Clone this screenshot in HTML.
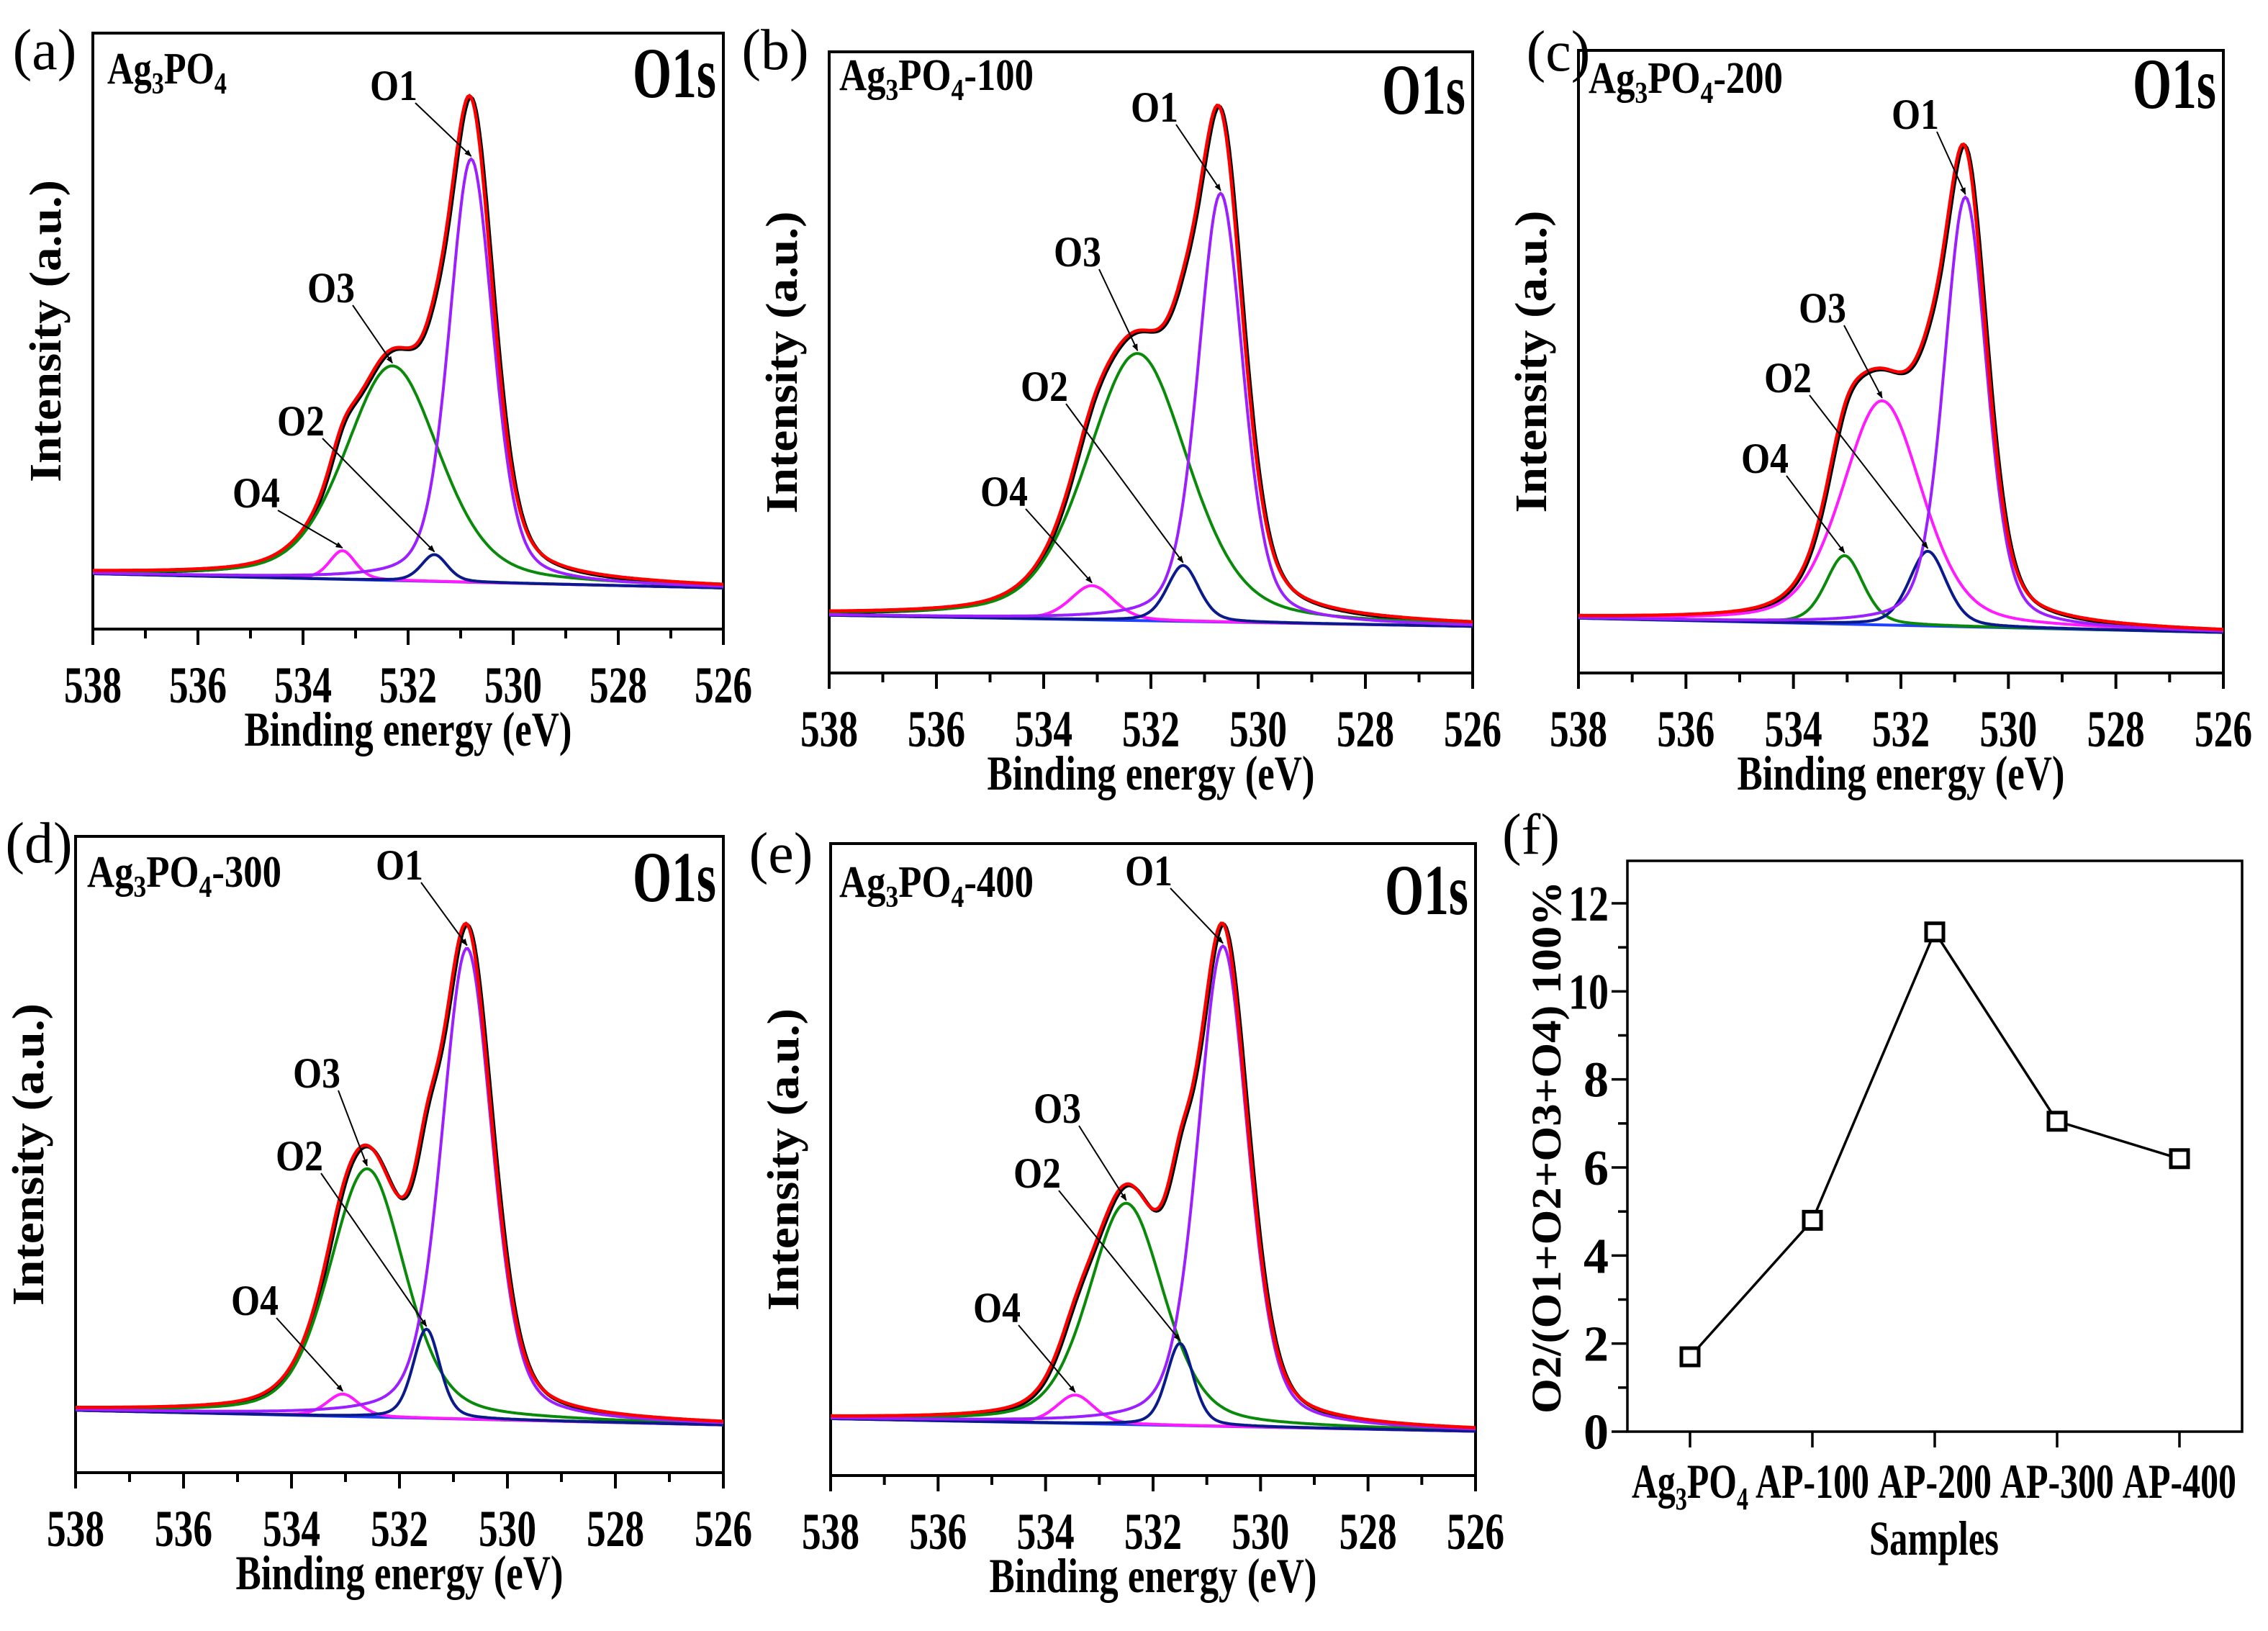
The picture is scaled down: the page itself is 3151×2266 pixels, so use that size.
<!DOCTYPE html>
<html><head><meta charset="utf-8"><style>
html,body{margin:0;padding:0;background:#fff}
svg{display:block}
text{font-family:"Liberation Serif",serif;font-weight:bold;fill:#000}
</style></head><body>
<svg id="fig" width="3151" height="2266" viewBox="0 0 3151 2266" xmlns="http://www.w3.org/2000/svg">
<defs><marker id="arr" markerWidth="10" markerHeight="8" refX="9" refY="4" orient="auto" markerUnits="userSpaceOnUse"><path d="M0,0 L10,4 L0,8 z" fill="#000"/></marker></defs>
</svg>
<script>
// Peak parameters: [center eV, amplitude (fraction of plot height), sigma eV]
const peaksA = [[530.8,0.71,0.42],[531.5,0.045,0.25],[532.3,0.36,0.90],[533.25,0.048,0.25]];
const peaksB = [[530.7,0.69,0.42],[531.4,0.09,0.30],[532.25,0.43,0.95],[533.1,0.055,0.40]];
const peaksC = [[530.8,0.69,0.40],[531.5,0.12,0.35],[532.35,0.36,0.75],[533.05,0.11,0.35]];
const peaksD = [[530.75,0.74,0.47],[531.5,0.14,0.25],[532.6,0.39,0.70],[533.05,0.035,0.30]];
const peaksE = [[530.7,0.76,0.47],[531.5,0.13,0.25],[532.5,0.35,0.70],[533.45,0.045,0.35]];
// Baseline [left, right] as fraction of plot height
const baseA = [0.093,0.069], baseB = [0.093,0.075], baseC = [0.088,0.065], baseD = [0.098,0.075], baseE = [0.09,0.07];
const xTicks = [538,536,534,532,530,528,526];
const sampleNames = ["Ag3PO4","AP-100","AP-200","AP-300","AP-400"];
const ratioValues = [1.7,4.8,11.35,7.05,6.2];
const ratioTicks = [0,2,4,6,8,10,12];

const NS="http://www.w3.org/2000/svg";
const svg=document.getElementById('fig');
function mk(tag,attrs,parent){const e=document.createElementNS(NS,tag);for(const k in attrs)e.setAttribute(k,attrs[k]);(parent||svg).appendChild(e);return e;}

const panels=[
 {id:'a',box:[129,46,1005,874],peaks:peaksA,base:baseA,colors:['#9b1fff','#0a1a8a','#0a8a0a','#ff1aff'],
  letter:[62,70],sample:'',sx:149,sy:96,o1s:[995,105],
  labels:[[547,117],[418,583],[460,398],[356,683]]},
 {id:'b',box:[1152,72,2046,935],peaks:peaksB,base:baseB,colors:['#9b1fff','#0a1a8a','#0a8a0a','#ff1aff'],
  letter:[1077,70],sample:'-100',sx:1166,sy:105,o1s:[2036,128],
  labels:[[1604,147],[1451,535],[1497,348],[1395,681]]},
 {id:'c',box:[2193,70,3089,935],peaks:peaksC,base:baseC,colors:['#9b1fff','#0a1a8a','#ff1aff','#0a8a0a'],
  letter:[2165,72],sample:'-200',sx:2207,sy:109,o1s:[3079,120],
  labels:[[2661,157],[2484,523],[2532,426],[2452,635]]},
 {id:'d',box:[105,1162,1005,2046],peaks:peaksD,base:baseD,colors:['#9b1fff','#0a1a8a','#0a8a0a','#ff1aff'],
  letter:[54,1172],sample:'-300',sx:121,sy:1212,o1s:[995,1222],
  labels:[[555,1200],[416,1604],[440,1489],[354,1805]]},
 {id:'e',box:[1154,1172,2050,2050],peaks:peaksE,base:baseE,colors:['#9b1fff','#0a1a8a','#0a8a0a','#ff1aff'],
  letter:[1085,1186],sample:'-400',sx:1166,sy:1226,o1s:[2040,1240],
  labels:[[1596,1208],[1441,1628],[1469,1538],[1385,1815]]}
];
const pkNames=['O1','O2','O3','O4'];
const LFRAC=0.35;
function g(x,p){const d=x-p[0];const G=Math.exp(-d*d/(2*p[2]*p[2]));const gam=1.1774*p[2];const L=1/(1+(d/gam)*(d/gam));return p[1]*((1-LFRAC)*G+LFRAC*L);}

panels.forEach(P=>{
 const [x0,y0,x1,y1]=P.box;
 const grp=mk('g',{});
 
 
 const X=e=>x0+(538-e)/12*(x1-x0);
 const Y=f=>y1-f*(y1-y0);
 const base=e=>P.base[0]+(P.base[1]-P.base[0])*(538-e)/12;
 const fr=mk('rect',{x:x0,y:y0,width:x1-x0,height:y1-y0,fill:'none',stroke:'#000','stroke-width':4},grp);
 
 
 for(let v=538;v>=526;v--){
  const major=(v%2===0);
  mk('line',{x1:X(v),x2:X(v),y1:y1,y2:y1+(major?22:13),stroke:'#000','stroke-width':4},grp);
 }
 xTicks.forEach(v=>{
  const t=mk('text',{x:X(v),y:y1+102,'font-size':72,'text-anchor':'middle',textLength:80,lengthAdjust:'spacingAndGlyphs'},grp);
  t.textContent=v;
  
  
 });
 const xt=mk('text',{x:(x0+x1)/2,y:y1+162,'font-size':68,'text-anchor':'middle',textLength:455,lengthAdjust:'spacingAndGlyphs'},grp);
 xt.textContent='Binding energy (eV)';
 
 
 const ycx=x0-45, ycy=(y0+y1)/2;
 const yt=mk('text',{x:ycx,y:ycy,'font-size':62,'text-anchor':'middle',transform:`rotate(-90 ${ycx} ${ycy})`,textLength:420,lengthAdjust:'spacingAndGlyphs'},grp);
 yt.textContent='Intensity (a.u.)';
 
 
 const lt=mk('text',{x:P.letter[0],y:P.letter[1]+26,'font-size':80,'text-anchor':'middle',style:'font-weight:normal'},grp);
 lt.textContent='('+P.id+')';
 
 
 const sl=mk('text',{x:P.sx,y:P.sy+20,'font-size':62,textLength:(P.sample?270:166),lengthAdjust:'spacingAndGlyphs'},grp);
 sl.innerHTML='Ag<tspan font-size="42" dy="14">3</tspan><tspan dy="-14">PO</tspan><tspan font-size="42" dy="14">4</tspan><tspan dy="-14">'+P.sample+'</tspan>';
 
 
 const o1=mk('text',{x:P.o1s[0],y:P.o1s[1]+30,'font-size':100,'text-anchor':'end',textLength:116,lengthAdjust:'spacingAndGlyphs'},grp);
 o1.textContent='O1s';
 
 
 const N=360;
 const comp=P.peaks.map(()=>[]);const tot=[];
 for(let i=0;i<=N;i++){
  const e=538-12*i/N;const b=base(e);let s=b;
  P.peaks.forEach((p,k)=>{const v=g(e,p);s+=v;comp[k].push([X(e),Y(b+v)]);});
  tot.push([X(e),Y(s)]);
 }
 const bl=mk('path',{d:'M'+X(538)+','+Y(base(538))+'L'+X(526)+','+Y(base(526)),stroke:'#2040ff','stroke-width':4,fill:'none'},grp);
 
 
 const toD=a=>'M'+a.map(q=>q[0].toFixed(1)+','+q[1].toFixed(1)).join('L');
 const raw=mk('path',{d:toD(tot.map(q=>[q[0]+2,q[1]+2])),stroke:'#000','stroke-width':5,fill:'none'},grp);
 
 
 [3,2,1,0].forEach(k=>{
  const c=mk('path',{d:toD(comp[k]),stroke:P.colors[k],'stroke-width':4,fill:'none'},grp);
  
  
 });
 const fit=mk('path',{d:toD(tot),stroke:'#ff0000','stroke-width':4.5,fill:'none'},grp);
 
 
 P.peaks.forEach((p,k)=>{
  const [lx,ly]=P.labels[k];
  const t=mk('text',{x:lx,y:ly+22,'font-size':60,'text-anchor':'middle',textLength:66,lengthAdjust:'spacingAndGlyphs'},grp);
  t.textContent=pkNames[k];
  
  
  const e=p[0];const tx=X(e), ty=Y(base(e)+g(e,p))-4;
  const a=mk('line',{x1:lx+30,y1:ly+26,x2:tx,y2:ty,stroke:'#000','stroke-width':2,'marker-end':'url(#arr)'},grp);
  
  
 });
});

(function(){
 const x0=2261,y0=1196,x1=3115,y1=1989;
 const grp=mk('g',{});
 
 
 const yS=v=>1989-(v/12)*(1989-1255);
 const X=i=>2348+i*170;
 const fr=mk('rect',{x:x0,y:y0,width:x1-x0,height:y1-y0,fill:'none',stroke:'#000','stroke-width':3.5},grp);
 
 
 for(let v=0;v<=12;v++){
  mk('line',{x1:x0,x2:x0-(v%2===0?22:13),y1:yS(v),y2:yS(v),stroke:'#000','stroke-width':3.5},grp);
 }
 ratioTicks.forEach(v=>{
  const t=mk('text',{x:x0-26,y:yS(v)+24,'font-size':70,'text-anchor':'end'},grp);
  if(v>=10){t.setAttribute('textLength',56);t.setAttribute('lengthAdjust','spacingAndGlyphs');}
  t.textContent=v;
  
  
 });
 sampleNames.forEach((s,i)=>{
  mk('line',{x1:X(i),x2:X(i),y1:y1,y2:y1+22,stroke:'#000','stroke-width':3.5},grp);
  const t=mk('text',{x:X(i),y:y1+92,'font-size':68,'text-anchor':'middle'},grp);
  if(s==='Ag3PO4'){t.innerHTML='Ag<tspan font-size="44" dy="16">3</tspan><tspan dy="-16">PO</tspan><tspan font-size="44" dy="16">4</tspan>';t.setAttribute('textLength',162);}
  else {t.textContent=s;t.setAttribute('textLength',158);}
  t.setAttribute('lengthAdjust','spacingAndGlyphs');
  
  
 });
 const pts=ratioValues.map((v,i)=>[X(i),yS(v)]);
 const ln=mk('path',{d:'M'+pts.map(p=>p.join(',')).join('L'),stroke:'#000','stroke-width':3.5,fill:'none'},grp);
 
 
 pts.forEach(p=>{
  const r=mk('rect',{x:p[0]-12,y:p[1]-12,width:24,height:24,fill:'#fff',stroke:'#000','stroke-width':5},grp);
  
  
 });
 const st=mk('text',{x:2687,y:2160,'font-size':68,'text-anchor':'middle',textLength:180,lengthAdjust:'spacingAndGlyphs'},grp);
 st.textContent='Samples';
 
 
 const cx=2168,cy=1594;
 const yt=mk('text',{x:cx,y:cy,'font-size':58,'text-anchor':'middle',transform:`rotate(-90 ${cx} ${cy})`,textLength:740,lengthAdjust:'spacingAndGlyphs'},grp);
 yt.textContent='O2/(O1+O2+O3+O4)  100%';
 
 
 const lt=mk('text',{x:2127,y:1186,'font-size':80,'text-anchor':'middle',style:'font-weight:normal'},grp);
 lt.textContent='(f)';
 
 
})();
</script>
</body></html>
